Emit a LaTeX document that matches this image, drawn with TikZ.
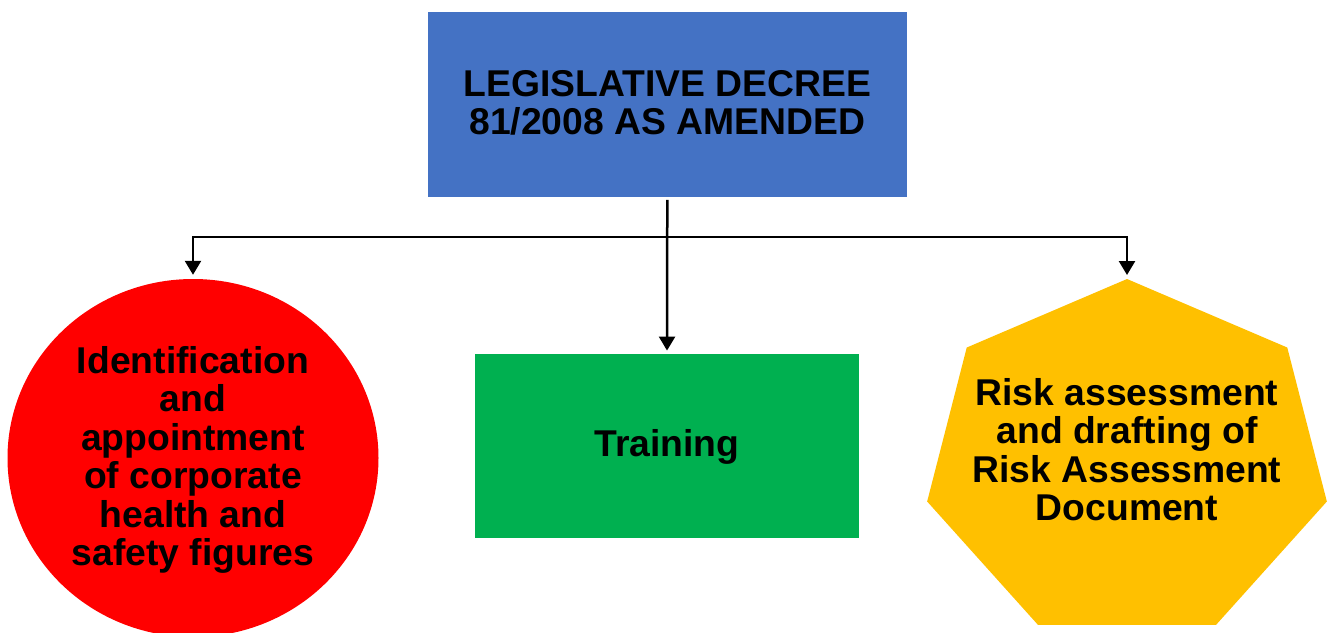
\documentclass[tikz,border=0pt]{standalone}
\usepackage{fontspec}
\setmainfont{Liberation Sans}
\usetikzlibrary{arrows.meta,shapes.geometric}
\definecolor{boxblue}{HTML}{4472C4}
\definecolor{boxgreen}{HTML}{00B050}
\definecolor{boxred}{HTML}{FF0000}
\definecolor{boxyellow}{HTML}{FFC000}
\tikzset{
  lbl/.style={font=\fontsize{37.3}{38.5}\selectfont\bfseries, text=black, align=center, inner sep=0pt},
  conn/.style={draw=black, line width=2.5pt, -{Triangle[length=14pt,width=16pt]}},
}
\begin{document}
\begin{tikzpicture}[x=1pt,y=-1pt]
\useasboundingbox (0,0) rectangle (1333,632);
\clip (0,0) rectangle (1333,632);
% top box
\node[lbl, fill=boxblue, minimum width=478.7pt, minimum height=184.7pt] (decree) at (667.3,104.3) {};
\node[lbl] (decreetxt) at (667.3,103) {LEGISLATIVE DECREE\\81/2008 AS AMENDED};
% green box
\node[lbl, fill=boxgreen, minimum width=384.6pt, minimum height=184.3pt] (training) at (667,446.2) {};
\node[lbl] (trainingtxt) at (667,447) {Training};
% red ellipse
\node[ellipse, fill=boxred, minimum width=371pt, minimum height=358pt, inner sep=0pt] (figures) at (193,458) {};
\node[lbl] (figurestxt) at (193,460) {Identification\\and\\appointment\\of corporate\\health and\\safety figures};
% yellow heptagon
\coordinate (hc) at (1127,461);
\fill[boxyellow] plot[samples at={0,...,6}, variable=\k] ({1127+205*sin(\k*360/7)},{461-182*cos(\k*360/7)}) -- cycle;
\coordinate (htop) at (1127,279);
\node[lbl] (risktxt) at (1127,449.7) {Risk assessment\\and drafting of\\Risk Assessment\\Document};
% connectors
\coordinate (junction) at (667,237);
\draw[conn, shorten <=3pt, shorten >=3.3pt] (decree.south) -- (training.north);
\draw[conn, shorten >=4pt] (junction) -| (figures.north);
\draw[conn, shorten >=4pt] (junction) -| (htop);
\end{tikzpicture}
\end{document}
